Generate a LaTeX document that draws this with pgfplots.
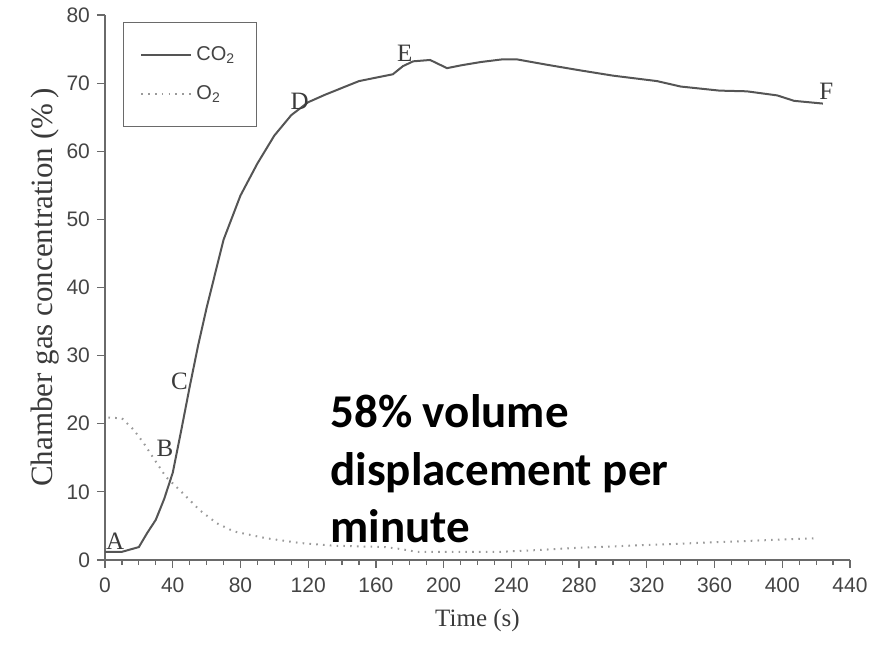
\documentclass[border=0pt]{standalone}
\usepackage{pgfplots}
\pgfplotsset{compat=1.18}
\usepackage{fontspec}
\setmainfont{Liberation Serif}
\newfontfamily\arialf{Liberation Sans}
\newfontfamily\calf{Carlito}
\definecolor{axgray}{HTML}{6A6A6A}
\definecolor{linegray}{HTML}{555555}
\definecolor{dotgray}{HTML}{9A9A9A}
\definecolor{lblgray}{HTML}{3A3A3A}
\definecolor{tickgray}{HTML}{444444}
\begin{document}
\begin{tikzpicture}
\begin{axis}[
  name=ax,
  scale only axis,
  width=372.5pt, height=272.5pt,
  xmin=0, xmax=440, ymin=0, ymax=80,
  axis lines*=left,
  axis line style={axgray, line width=0.7pt, -},
  xtick={0,40,...,440},
  ytick={0,10,...,80},
  minor x tick num=3,
  tick align=outside,
  major tick length=4pt,
  minor tick length=2.5pt,
  tick style={axgray, line width=0.6pt},
  /pgf/number format/assume math mode=true,
  ticklabel style={font=\arialf\fontsize{10.5pt}{12pt}\selectfont, text=tickgray},
  xticklabel style={yshift=-1.5pt},
  xlabel={Time (s)},
  ylabel={Chamber gas concentration (\%\,)},
  every axis x label/.style={at={(rel axis cs:0.5,0)}, anchor=center, yshift=-30pt, font=\fontsize{12.5pt}{14pt}\selectfont, text=lblgray},
  every axis y label/.style={at={(rel axis cs:0,0.5)}, rotate=90, anchor=center, yshift=30pt, font=\fontsize{15.5pt}{17pt}\selectfont, text=lblgray},
  legend style={at={(rel axis cs:0.024,0.987)}, anchor=north west, draw=axgray, line width=0.6pt,
    font=\arialf\fontsize{10pt}{11pt}\selectfont, text=tickgray,
    inner xsep=8.5pt, inner ysep=10pt, row sep=7pt},
  legend cell align=left,
  legend image code/.code={\draw[#1] (0pt,0pt) -- (25pt,0pt);},
  clip=false,
]
\addplot[linegray, line width=1pt] coordinates {
(0,1.2) (10,1.2) (20,1.9) (25,4.0) (30,5.9) (35,9.0) (40,12.8) (45,19.0) (50,25.4)
(55,31.5) (60,37.0) (70,47.0) (80,53.5) (90,58.2) (100,62.3) (110,65.3) (120,67.2)
(130,68.3) (140,69.3) (150,70.3) (160,70.8) (170,71.3) (176,72.5) (182,73.2) (192,73.4)
(202,72.2) (210,72.6) (222,73.1) (235,73.5) (243,73.5) (261,72.7) (280,71.9) (300,71.1)
(326,70.3) (340,69.5) (363,68.9) (379,68.8) (397,68.2) (407,67.4) (424,67.0)
};
\addlegendentry{CO\textsubscript{2}}
\addplot[dotgray, line width=1pt, dash pattern=on 0.8pt off 2.6pt] coordinates {
(2,20.9) (10,20.8) (17,19.1) (23,17.1) (28,15.2) (36,12.2) (44,10.3) (56,7.3) (66,5.4)
(76,4.2) (95,3.2) (115,2.5) (135,2.1) (150,2.0) (165,1.9) (175,1.6) (184,1.2) (200,1.2)
(233,1.2) (251,1.4) (280,1.8) (310,2.1) (340,2.4) (369,2.7) (400,3.0) (421,3.2)
};
\addlegendentry{O\textsubscript{2}}
\node[text=lblgray, font=\fontsize{12.5pt}{14pt}\selectfont] at (axis cs:6,2.7) {A};
\node[text=lblgray, font=\fontsize{12.5pt}{14pt}\selectfont] at (axis cs:35.4,16.4) {B};
\node[text=lblgray, font=\fontsize{12.5pt}{14pt}\selectfont] at (axis cs:44,26.2) {C};
\node[text=lblgray, font=\fontsize{12.5pt}{14pt}\selectfont] at (axis cs:115,67.3) {D};
\node[text=lblgray, font=\fontsize{12.5pt}{14pt}\selectfont] at (axis cs:177,74.4) {E};
\node[text=lblgray, font=\fontsize{12.5pt}{14pt}\selectfont] at (axis cs:426,68.8) {F};
\node[anchor=base west, inner sep=0pt, font=\calf\bfseries\fontsize{23.5pt}{28pt}\selectfont] at (axis cs:132.9,19.4) {58\% volume};
\node[anchor=base west, inner sep=0pt, font=\calf\bfseries\fontsize{23.5pt}{28pt}\selectfont] at (axis cs:132.9,11.0) {displacement per};
\node[anchor=base west, inner sep=0pt, font=\calf\bfseries\fontsize{23.5pt}{28pt}\selectfont] at (axis cs:132.9,2.64) {minute};
\end{axis}
\path (ax.south west) ++(-52.5pt,-45pt) rectangle ++(447.5pt,325pt);
\end{tikzpicture}
\end{document}
